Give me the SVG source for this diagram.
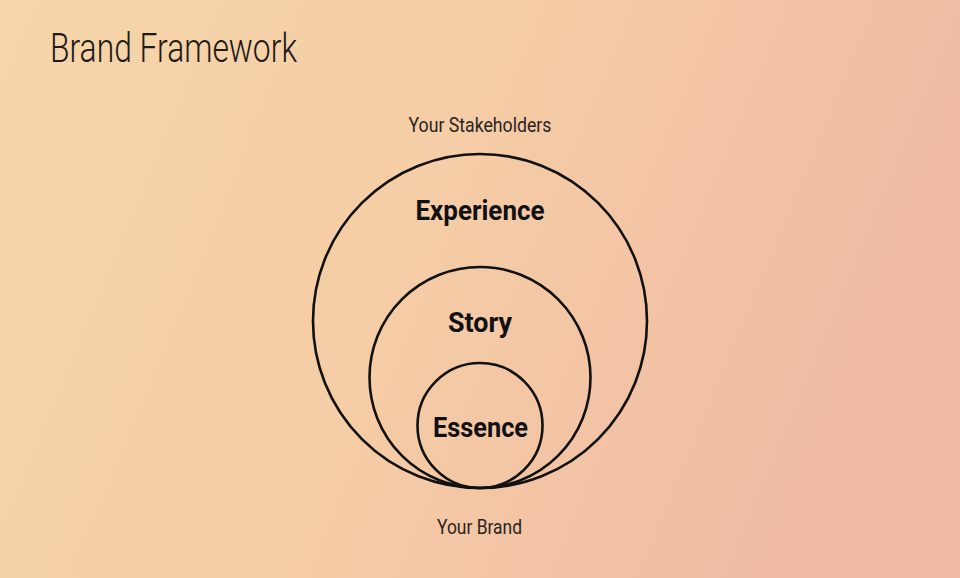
<svg xmlns="http://www.w3.org/2000/svg" width="960" height="578" viewBox="0 0 960 578">
  <defs>
    <linearGradient id="bg" x1="0" y1="0" x2="1" y2="0.25">
      <stop offset="0" stop-color="#f6d6aa"/>
      <stop offset="0.5" stop-color="#f5cda6"/>
      <stop offset="1" stop-color="#f0baa3"/>
    </linearGradient>
  </defs>
  <style>
    .ring { fill: none; stroke: #111; stroke-width: 2.6; }
    .title { font-family: Roboto, "Liberation Sans", sans-serif; font-weight: 300; font-size: 40px; fill: #1e1a17; }
    .small { font-family: Roboto, "Liberation Sans", sans-serif; font-weight: 400; font-size: 20px; fill: #2a2420; text-anchor: middle; }
    .big { font-family: Roboto, "Liberation Sans", sans-serif; font-weight: 700; font-size: 28px; fill: #111; text-anchor: middle; }
  </style>
  <rect x="0" y="0" width="960" height="578" fill="url(#bg)"/>
  <text class="title" x="50" y="62" textLength="247" lengthAdjust="spacingAndGlyphs">Brand Framework</text>
  <text class="small" x="480" y="132" textLength="143" lengthAdjust="spacingAndGlyphs">Your Stakeholders</text>
  <g id="experience">
    <circle class="ring" cx="480" cy="321" r="167"/>
    <text class="big" x="480" y="220" textLength="129" lengthAdjust="spacingAndGlyphs">Experience</text>
  </g>
  <g id="story">
    <circle class="ring" cx="480" cy="377.5" r="110.5"/>
    <text class="big" x="480" y="332" textLength="64" lengthAdjust="spacingAndGlyphs">Story</text>
  </g>
  <g id="essence">
    <circle class="ring" cx="480" cy="425.5" r="62.5"/>
    <text class="big" x="480.5" y="437" textLength="95" lengthAdjust="spacingAndGlyphs">Essence</text>
  </g>
  <g id="connectors"/>
  <text class="small" x="479.5" y="534" textLength="85" lengthAdjust="spacingAndGlyphs">Your Brand</text>
</svg>
